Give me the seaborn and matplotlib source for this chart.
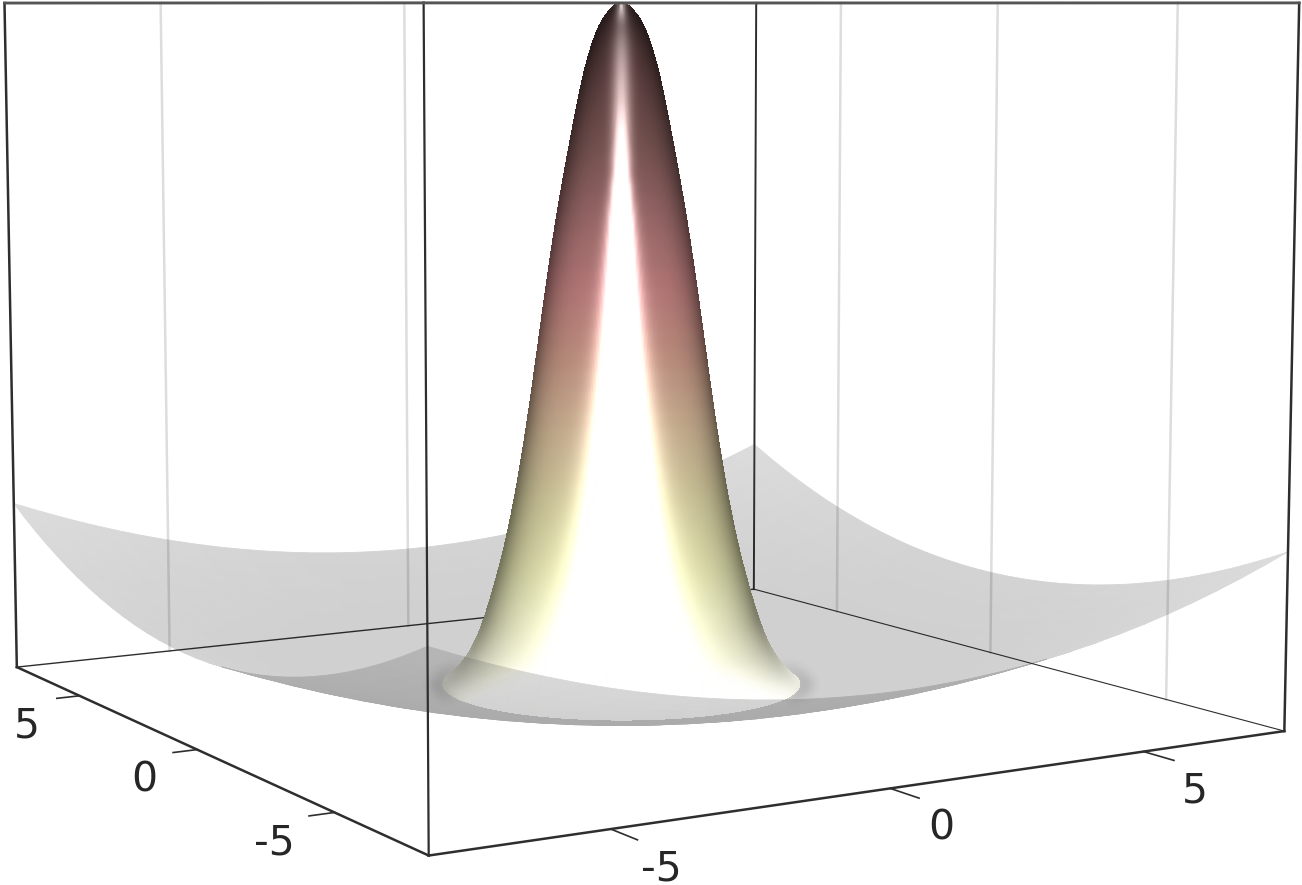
import numpy as np
import matplotlib
matplotlib.use("Agg")
import matplotlib.pyplot as plt
from mpl_toolkits.mplot3d import proj3d
from mpl_toolkits.mplot3d.art3d import Poly3DCollection
import seaborn as sns

PEAK_R = [0.0000, 0.0475, 0.0950, 0.1425, 0.1900, 0.2375, 0.2850, 0.3325, 0.3800,
          0.4275, 0.4750, 0.5225, 0.5700, 0.6175, 0.6650, 0.7125, 0.7600, 0.8075,
          0.8550, 0.9025, 0.9500, 0.9975, 1.0450, 1.0925, 1.1400, 1.1875, 1.2350,
          1.2825, 1.3300, 1.3775, 1.4250, 1.4725, 1.5200, 1.5675, 1.6150, 1.6625,
          1.7100, 1.7575, 1.8050, 1.8525, 1.9000, 1.9475, 1.9950, 2.0425, 2.0900,
          2.1375, 2.1850, 2.2325, 2.2800, 2.3275, 2.3750, 2.4225, 2.4700, 2.5175,
          2.5650, 2.6125, 2.6600, 2.7075, 2.7550, 2.8025, 2.8500, 2.8975, 2.9450,
          2.9925, 3.0400, 3.0875]
PEAK_Z = [1.0000, .9994, .9976, .9946, .9906, .9856, .9807, .9744, .9667, .9576,
          .9471, .9352, .9219, .9074, .8907, .8723, .8528, .8328, .8123, .7915,
          .7702, .7486, .7263, .7031, .6788, .6536, .6271, .5999, .5720, .5438,
          .5153, .4869, .4588, .4314, .4047, .3791, .3544, .3308, .3083, .2871,
          .2670, .2482, .2303, .2135, .1976, .1826, .1684, .1544, .1410, .1282,
          .1162, .1050, .0946, .0852, .0768, .0693, .0626, .0566, .0511, .0461,
          .0415, .0372, .0332, .0294, .0258, .0224]

# bowl height along one axis (centre to edge)
BOWL_X = [0, .5, 1, 1.5, 2, 2.5, 3, 3.5, 4, 4.5, 5, 5.5, 6, 6.5, 7, 7.5, 8]
BOWL_H = [0, .0005, .002, .0044, .0078, .0122, .0176, .024, .0313, .0397,
          .0489, .0592, .0705, .0827, .0959, .1101, .1251]

PEAK_RAMP = ['#fffffa', '#eeeecd', '#d9d9a8', '#c9c296', '#c2aa8c', '#b98c7c',
             '#b27676', '#966666', '#745250', '#583c3c', '#322323']
TICKS = [-5, 0, 5]
LIM = 8

ELEV, AZIM, FOCAL, HZ = 5.89, -121.06, 0.4337, 0.7498
SCALE, CX, CY = 7822.02, 621.41, 353.97

sns.set_theme(style='white')
W, H = 1302, 885
fig = plt.figure(figsize=(W / 100, H / 100), dpi=100)
side = 0.185 * SCALE
left = CX - 0.095 * SCALE
bottom = H - (CY + 0.095 * SCALE)
ax = fig.add_axes([left / W, bottom / H, side / W, side / H], projection='3d')
ax.set_xlim(-LIM, LIM)
ax.set_ylim(-LIM, LIM)
ax.set_zlim(0, 1)
ax.view_init(elev=ELEV, azim=AZIM)
ax.set_proj_type('persp', focal_length=FOCAL)
ax.set_box_aspect((1, 1, HZ))
ax.set_axis_off()
ax.computed_zorder = False
M = ax.get_proj()


def quads(X, Y, Z):
    pts = np.stack([X, Y, Z], axis=-1)
    return np.stack([pts[:-1, :-1], pts[:-1, 1:], pts[1:, 1:], pts[1:, :-1]],
                    axis=2).reshape(-1, 4, 3)


def box_blur(a, n, axis):
    pad = [(0, 0)] * a.ndim
    pad[axis] = (n // 2 + 1, n // 2)
    c = np.cumsum(np.pad(a, pad, mode='edge'), axis=axis)
    return (np.take(c, range(n, c.shape[axis]), axis=axis)
            - np.take(c, range(0, c.shape[axis] - n), axis=axis)) / n


# note: the 3d collections run an agg filter twice per draw, hence the sqrt
def sheet_filter(alpha):
    # one opaque sheet at a time, so the facets leave no seams
    def f(img, dpi):
        img = img.copy()
        img[..., 3] *= np.sqrt(alpha)
        return img, 0, 0
    return f


def smooth_rows(img, dpi):
    # soften the colour steps between profile rows, keep the outline
    a = img[..., 3]
    pm = img[..., :3] * a[..., None]
    for n in (11, 7):
        pm = box_blur(pm, n, 0)
        a = box_blur(a, n, 0)
    out = img.copy()
    out[..., :3] = np.clip(pm / np.maximum(a, 1e-3)[..., None], 0, 1)
    return out, 0, 0


def soft_shadow(img, dpi):
    a = img[..., 3]
    pad = 20
    a = np.pad(a, pad)
    for n in (9, 9):
        a = box_blur(box_blur(a, n, 0), n, 1)
    out = np.zeros(a.shape + (4,))
    out[..., 3] = a * np.sqrt(0.16)
    return out, -pad, -pad


# bowl: the wall seen from outside goes over the peak, the rest under it
h = np.array(BOWL_H)
axis = np.r_[-np.array(BOWL_X[:0:-1]), BOWL_X]
hh = np.r_[h[:0:-1], h]
BX, BY = np.meshgrid(axis, axis)
bowl = quads(BX, BY, np.add.outer(hh, hh))
px, py, _ = proj3d.proj_transform(bowl[..., 0].ravel(), bowl[..., 1].ravel(),
                                  bowl[..., 2].ravel(), M)
px = np.reshape(px, (-1, 4))
py = np.reshape(py, (-1, 4))
area = (px * np.roll(py, -1, axis=1) - np.roll(px, -1, axis=1) * py).sum(axis=1)
mid = bowl.mean(axis=1)
rad = np.hypot(mid[:, 0], mid[:, 1])
inside = np.sign(area) == np.sign(area[np.argmin(rad)])
grey = 20 + 60 * np.clip((rad - 6) / 5.3, 0, 1) ** 1.5
fc = np.repeat((grey / 255)[:, None], 3, axis=1)
for mask, zo in ((inside, 3), (~inside, 5)):
    col = Poly3DCollection(bowl[mask], facecolors=fc[mask], edgecolors=fc[mask],
                           linewidths=0.6)
    col.set_zorder(zo)
    col.set_agg_filter(sheet_filter(0.2))
    ax.add_collection3d(col, autolim=False)

# peak: surface of revolution of the profile
theta = np.radians(np.arange(0, 360.01, 1.0))
RR, TT = np.meshgrid(PEAK_R, theta, indexing='ij')
ZZ = np.repeat(np.array(PEAK_Z)[:, None], len(theta), axis=1)
peak = quads(RR * np.cos(TT), RR * np.sin(TT), ZZ)
pm = peak.mean(axis=1)
ang = np.arctan2(pm[:, 1], pm[:, 0]) - np.radians(AZIM)
lat = np.abs(np.sin(ang))
ramp = np.array(sns.blend_palette(PEAK_RAMP, 256))
z = pm[:, 2]
base = ramp[np.clip((z * 255).astype(int), 0, 255)]
flat = np.clip(z / 0.12, 0, 1)
lean = np.where(np.sin(ang) < 0, 0.22, 0.05)
power = np.interp(z, [0, .45, .75, 1], [7, 7, 4, 2.5])
dark = 1 - (lean + (0.5 - lean) * flat) * lat ** power
width = 0.05 + 0.30 * (1 - z) + 0.22 * np.clip((0.08 - z) / 0.08, 0, 1)
width = np.where(z > 0.76, np.interp(z, [.76, .82, .9, 1], [.122, .15, .22, .35]), width)
amp = np.interp(z, [0, .70, .76, .80, .86, .93, .97, .985, 1.0],
                [1.9, 1.9, 1.3, .85, .55, .38, .22, .5, .8])
spec = amp * np.exp(-(lat / width) ** 1.7)
rgb = np.clip(base * dark[:, None] + spec[:, None], 0, 1)
col = Poly3DCollection(peak, facecolors=rgb, edgecolors=rgb, linewidths=0.5,
                       antialiaseds=False)
col.set_zorder(4)
col.set_agg_filter(smooth_rows)
ax.add_collection3d(col, autolim=False)

# faint shadow on the bowl beside the rim
rim = np.array(PEAK_R[-1:] + [PEAK_R[-1] * 1.07])
RS, TS = np.meshgrid(rim, np.radians(np.arange(0, 360.01, 3.0)), indexing='ij')
ring = quads(RS * np.cos(TS), RS * np.sin(TS), np.full(RS.shape, PEAK_Z[-1]))
ra = np.arctan2(ring[..., 1].mean(axis=1), ring[..., 0].mean(axis=1)) - np.radians(AZIM)
ring = ring[np.abs(np.sin(ra)) > 0.9]
col = Poly3DCollection(ring, facecolors='k', edgecolors='k', linewidths=0.5)
col.set_zorder(3.5)
col.set_agg_filter(soft_shadow)
ax.add_collection3d(col, autolim=False)


def edge(p, q, zo, lw=1.8, color='#2e2e2e'):
    ax.plot([p[0], q[0]], [p[1], q[1]], [p[2], q[2]], color=color, lw=lw,
            zorder=zo, solid_capstyle='projecting')


# walls: grid lines first
for t in TICKS:
    edge((t, LIM, 0), (t, LIM, 1), 1, lw=1.8, color='#dddddd')
    edge((LIM, t, 0), (LIM, t, 1), 1, lw=1.8, color='#dddddd')

F, R, L, B = (-LIM, -LIM), (LIM, -LIM), (-LIM, LIM), (LIM, LIM)
edge((*L, 0), (*B, 0), 2, lw=1.0)
edge((*R, 0), (*B, 0), 2, lw=0.8)
edge((*B, 0), (*B, 1), 2, lw=1.4)
edge((*F, 0), (*L, 0), 6)
edge((*F, 0), (*R, 0), 6)
edge((*F, 0), (*F, 1), 6, lw=1.6)
edge((*L, 0), (*L, 1), 6)
edge((*R, 0), (*R, 1), 6)
edge((*F, 1), (*L, 1), 6, lw=1.8, color='#555555')
edge((*F, 1), (*R, 1), 6, lw=1.8, color='#555555')
edge((*L, 1), (*B, 1), 6, lw=1.8, color='#555555')
edge((*R, 1), (*B, 1), 6, lw=1.8, color='#555555')

# ticks and labels
for t in TICKS:
    edge((t, -LIM, 0), (t, -LIM - 0.75, 0), 6, lw=1.2)
    edge((-LIM, t, 0), (-LIM - 0.42, t, 0), 6, lw=1.2)
    xp, yp, _ = proj3d.proj_transform(t, -LIM, 0, M)
    ax.annotate(str(t), xy=(xp, yp), xytext=(51, -40), textcoords='offset pixels',
                ha='center', va='center', fontsize=29.5, color='#262626',
                annotation_clip=False, zorder=7)
    xp, yp, _ = proj3d.proj_transform(-LIM, t, 0, M)
    ax.annotate(str(t), xy=(xp, yp), xytext=(-40, -31), textcoords='offset pixels',
                ha='right', va='center', fontsize=29.5, color='#262626',
                annotation_clip=False, zorder=7)

fig.savefig("out.png", dpi=100)
